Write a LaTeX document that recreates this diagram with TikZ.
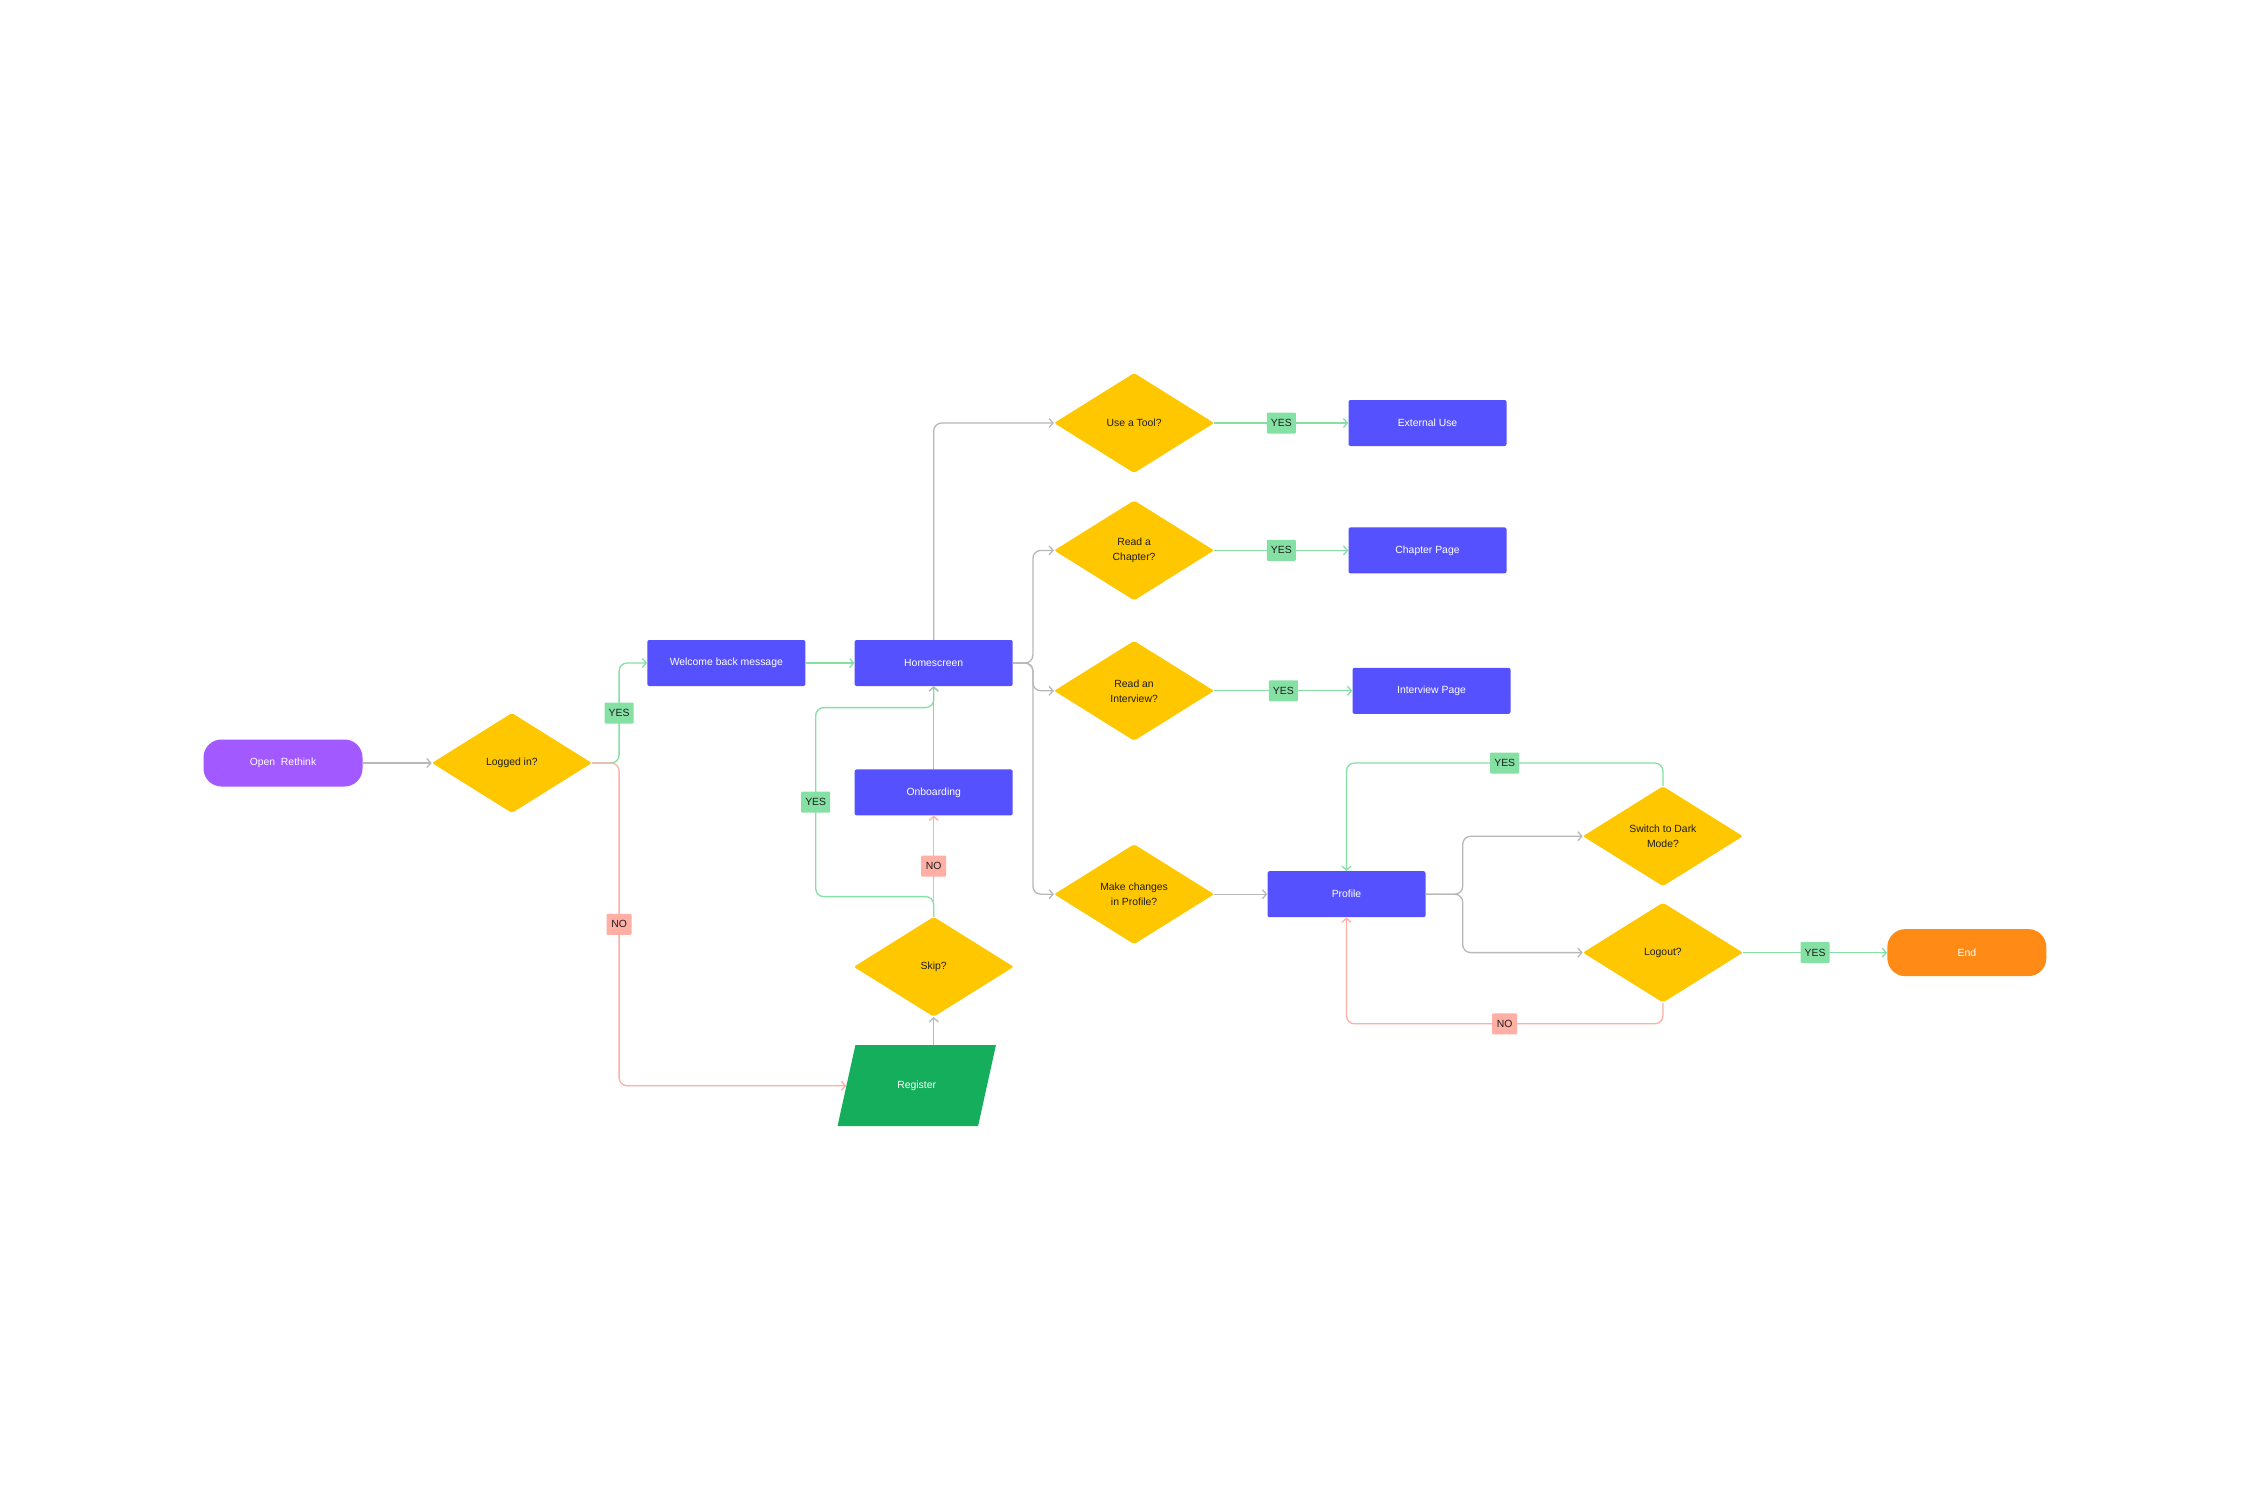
\documentclass[tikz,border=0pt]{standalone}
\usepackage{fontspec}
\setmainfont{Liberation Sans}
\usetikzlibrary{arrows.meta,positioning,shapes.geometric}

\definecolor{flowpurple}{HTML}{A259FF}
\definecolor{flowyellow}{HTML}{FFC700}
\definecolor{flowblue}{HTML}{5551FF}
\definecolor{flowgreen}{HTML}{14AE5C}
\definecolor{floworange}{HTML}{FF8A16}
\definecolor{inkdark}{HTML}{1E1E1E}
\definecolor{linegray}{HTML}{B8B8B8}
\definecolor{lineyes}{HTML}{85E0A3}
\definecolor{lineno}{HTML}{FFAFA3}

\begin{document}
\begin{tikzpicture}[
    x=1pt, y=-1pt,
    font=\fontsize{10.4}{15}\selectfont,
    box/.style={fill=flowblue, text=white, rounded corners=2pt, align=center, minimum width=158pt, minimum height=46pt},
    term/.style={fill=#1, text=white, rounded corners=18pt, minimum width=159pt, minimum height=47pt},
    dec/.style={diamond, fill=flowyellow, text=inkdark, rounded corners=2pt, align=center, inner sep=0pt, minimum width=160pt, minimum height=100pt},
    io/.style={trapezium, trapezium left angle=68, trapezium right angle=112, trapezium stretches=true, fill=flowgreen, text=white, minimum width=159pt, minimum height=81pt},
    arr/.style={-{Straight Barb[length=4pt, width=9pt]}, line width=1.3pt, rounded corners=8pt},
    plain/.style={arr, draw=linegray},
    yes/.style={arr, draw=lineyes},
    no/.style={arr, draw=lineno},
    tag/.style={fill=#1, text=inkdark, rounded corners=1pt, inner sep=0pt, minimum height=21pt},
    yeslbl/.style={tag=lineyes, minimum width=29pt},
    nolbl/.style={tag=lineno, minimum width=25pt},
  ]
    \path[use as bounding box, fill=white] (0,0) rectangle (2250,1500);

    \node[term=flowpurple] (open) at (283,763) {Open\ \ Rethink};
    \node[dec, right=69pt of open] (login) {Logged in?};
    \node[box, right=55pt of login, yshift=100pt] (welc) {Welcome back message};
    \node[box, right=49pt of welc] (home) {Homescreen};
    \node[box, below=83pt of home] (onb) {Onboarding};
    \node[dec, below=101pt of onb] (skip) {Skip?};
    \node[io, below=28pt of skip, xshift=-17pt] (reg) {Register};

    \node[dec, right=41pt of home, yshift=240pt] (tool) {Use a Tool?};
    \node[dec, below=27pt of tool] (chap) {Read a\\Chapter?};
    \node[dec, below=40pt of chap] (intv) {Read an\\Interview?};
    \node[dec, below=103pt of intv] (prof) {Make changes\\in Profile?};
    \node[box, right=134pt of tool] (ext) {External Use};
    \node[box, right=134pt of chap] (cpage) {Chapter Page};
    \node[box, right=138pt of intv] (ipage) {Interview Page};

    \node[box, right=53pt of prof] (pf) {Profile};
    \node[dec, right=157pt of pf, yshift=58pt] (dark) {Switch to Dark\\Mode?};
    \node[dec, below=16pt of dark] (out) {Logout?};
    \node[term=floworange, right=144pt of out] (fin) {End};

    % login and register
    \draw[plain] (open) -- (login);
    \draw[yes] (login.east) -- ++(27,0) |- node[pos=0.25, yeslbl] {YES} (welc.west);
    \draw[no] (login.east) -- ++(27,0) |- node[pos=0.25, nolbl] {NO} (reg.west);
    \draw[yes] (welc) -- (home);
    \draw[plain] (skip.south |- reg.north) -- (skip);
    \draw[no] (skip) -- node[nolbl] {NO} (onb);
    \draw[yes] (skip.north) -- ++(0,-20) -| ++(-118,-189) node[pos=0.75, yeslbl] {YES} -| (home.south);
    \draw[plain] (onb) -- (home);

    % homescreen choices
    \draw[plain] (home.north) |- (tool.west);
    \foreach \q in {chap, intv, prof}
      \draw[plain] (home.east) -- ++(20,0) |- (\q.west);
    \foreach \q/\p in {tool/ext, chap/cpage, intv/ipage}
      \draw[yes] (\q) -- node[yeslbl] {YES} (\p);

    % profile
    \draw[plain] (prof) -- (pf);
    \draw[plain] (pf.east) -- ++(37,0) |- (dark.west);
    \draw[plain] (pf.east) -- ++(37,0) |- (out.west);
    \draw[yes] (dark.north) -- ++(0,-23) -| node[pos=0.25, yeslbl] {YES} (pf.north);
    \draw[no] (out.south) -- ++(0,21) -| node[pos=0.25, nolbl] {NO} (pf.south);
    \draw[yes] (out) -- node[yeslbl] {YES} (fin);
  \end{tikzpicture}
\end{document}
